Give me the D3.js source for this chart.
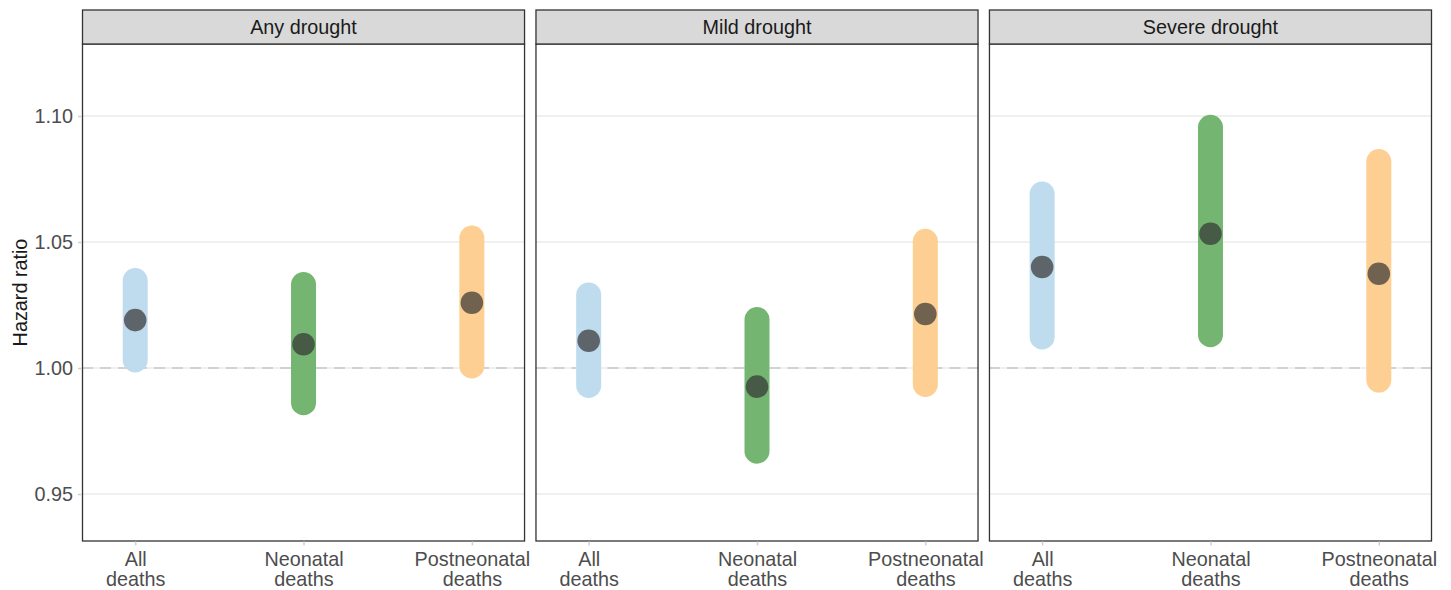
<!DOCTYPE html>
<html>
<head>
<meta charset="utf-8">
<script src="https://cdn.jsdelivr.net/npm/d3@7"></script>
<style>
  body { margin: 0; background: #fff; }
  text { font-family: "Liberation Sans", Arial, sans-serif; }
</style>
</head>
<body>
<div id="canvas"></div>
<script>
// data
var facets = ['Any drought', 'Mild drought', 'Severe drought']
var outcomes = ['All deaths', 'Neonatal deaths', 'Postneonatal deaths']
var colors = ['#bfdbee', '#75b572', '#fecf92']

var hr    = [[1.0190, 1.0094, 1.0259], [1.0108, 0.9926, 1.0214], [1.0401, 1.0533, 1.0374]]
var lower = [[1.0032, 0.9862, 1.0008], [0.9931, 0.9670, 0.9935], [1.0123, 1.0132, 0.9952]]
var upper = [[1.0347, 1.0331, 1.0516], [1.0290, 1.0192, 1.0503], [1.0690, 1.0955, 1.0819]]

var yTicks = [0.95, 1.00, 1.05, 1.10]

var W = 1451, H = 590
var panelTop = 44, panelBottom = 541
var stripTop = 10
var fontSize = '19.8px'

let Svg = d3.select('#canvas')
    .append('svg')
    .attr('width', W)
    .attr('height', H)

//    scales
let fScale = d3.scaleBand()
    .domain(facets)
    .range([82, 1432])
    .paddingInner(0.023)
    .paddingOuter(0)

let xScale = d3.scalePoint()
    .domain(outcomes)
    .range([0, fScale.bandwidth()])
    .padding(0.316)

let yScale = d3.scaleLinear()
    .domain([0.93135, 1.12857])
    .range([panelBottom, panelTop])

// rows: one per facet/outcome
var rows = []
facets.forEach(function (f, i) {
    outcomes.forEach(function (o, j) {
        rows.push({ facet: f, outcome: o, j: j, hr: hr[i][j], lo: lower[i][j], hi: upper[i][j] })
    })
})

let panels = Svg.selectAll('g.panel')
    .data(facets)
    .enter()
    .append('g')
    .attr('class', 'panel')
    .attr('transform', d => 'translate(' + fScale(d) + ',0)')

var bw = fScale.bandwidth()

// grid
panels.each(function () {
    let g = d3.select(this)
    g.selectAll('line.grid')
        .data(yTicks)
        .enter()
        .append('line')
        .attr('x1', 0).attr('x2', bw)
        .attr('y1', d => yScale(d)).attr('y2', d => yScale(d))
        .style('stroke', '#ebebeb')
        .style('stroke-width', 1.6)
})

// reference line
panels.append('line')
    .attr('x1', 0).attr('x2', bw)
    .attr('y1', yScale(1)).attr('y2', yScale(1))
    .style('stroke', '#d2d2d2')
    .style('stroke-width', 2)
    .style('stroke-dasharray', '11,7')

// CI bars and points
panels.each(function (f) {
    let g = d3.select(this)
    let sub = rows.filter(r => r.facet === f)
    g.selectAll('line.ci')
        .data(sub)
        .enter()
        .append('line')
        .attr('x1', d => xScale(d.outcome)).attr('x2', d => xScale(d.outcome))
        .attr('y1', d => yScale(d.lo)).attr('y2', d => yScale(d.hi))
        .style('stroke', d => colors[d.j])
        .style('stroke-width', 25)
        .style('stroke-linecap', 'round')
    g.selectAll('circle')
        .data(sub)
        .enter()
        .append('circle')
        .attr('cx', d => xScale(d.outcome))
        .attr('cy', d => yScale(d.hr))
        .attr('r', 11.3)
        .style('fill', '#333333')
        .style('fill-opacity', 0.7)
})

// panel border
panels.append('rect')
    .attr('x', 0.5).attr('y', panelTop)
    .attr('width', bw - 1).attr('height', panelBottom - panelTop)
    .style('fill', 'none')
    .style('stroke', '#333333')
    .style('stroke-width', 1.3)

// strips
panels.append('rect')
    .attr('x', 0.5).attr('y', stripTop)
    .attr('width', bw - 1).attr('height', panelTop - stripTop)
    .style('fill', '#d9d9d9')
    .style('stroke', '#333333')
    .style('stroke-width', 1.3)

panels.append('text')
    .attr('x', bw / 2)
    .attr('y', 33.7)
    .attr('text-anchor', 'middle')
    .style('font-size', fontSize)
    .style('fill', '#1a1a1a')
    .text(d => d)

// x axis per panel
panels.each(function () {
    let g = d3.select(this)
    let ax = g.append('g')
        .attr('transform', 'translate(0,' + (panelBottom + 0.5) + ')')
        .call(d3.axisBottom(xScale).tickSize(4).tickFormat(''))
    ax.select('.domain').remove()
    ax.selectAll('line').style('stroke', '#d0d0d0').style('stroke-width', 1.5)
    ax.selectAll('.tick').each(function (d) {
        let words = d.split(' ')
        let t = d3.select(this).append('text')
            .attr('text-anchor', 'middle')
            .style('font-size', fontSize)
            .style('fill', '#4d4d4d')
        t.append('tspan').attr('x', 0).attr('y', 24.5).text(words[0])
        t.append('tspan').attr('x', 0).attr('y', 44.5).text(words[1])
    })
})

// y axis
let yAxis = Svg.append('g')
    .attr('transform', 'translate(' + fScale(facets[0]) + ',0)')
    .call(d3.axisLeft(yScale).tickValues(yTicks).tickSize(4).tickPadding(5)
        .tickFormat(d3.format('.2f')))
yAxis.select('.domain').remove()
yAxis.selectAll('line').style('stroke', '#d0d0d0').style('stroke-width', 1.5)
yAxis.selectAll('text')
    .style('font-size', fontSize)
    .style('fill', '#4d4d4d')
    .style('font-family', '"Liberation Sans", Arial, sans-serif')

// axis title
Svg.append('text')
    .attr('transform', 'translate(26.5,' + ((panelTop + panelBottom) / 2) + ') rotate(-90)')
    .attr('text-anchor', 'middle')
    .style('font-size', fontSize)
    .style('fill', '#1a1a1a')
    .text('Hazard ratio')
</script>
</body>
</html>
